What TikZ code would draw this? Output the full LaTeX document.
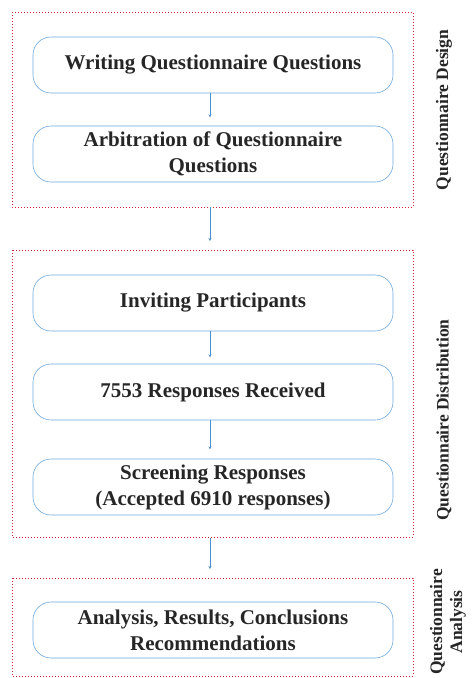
\documentclass[tikz,border=0pt]{standalone}
\usepackage{fontspec}
\setmainfont{Liberation Serif}
\usetikzlibrary{arrows.meta}
\definecolor{boxblue}{HTML}{6FA8DC}
\definecolor{arrblue}{HTML}{4A90D0}
\definecolor{dotred}{HTML}{D0202F}
\tikzset{
  x=1pt,y=-1pt,
  stepbox/.style={draw=boxblue,line width=0.6pt,rounded corners=18pt,minimum width=360pt,minimum height=56pt,align=center,font=\fontsize{21}{26}\selectfont\bfseries,text=black!85},
  grp/.style={draw=dotred,dotted,line width=1pt},
  flow/.style={draw=arrblue,line width=0.7pt,-{Stealth[length=3pt,width=3pt]}},
  side/.style={rotate=90,align=center,font=\fontsize{17.5}{20}\selectfont\bfseries,text=black!85}
}
\begin{document}
\begin{tikzpicture}
\useasboundingbox (0,0) rectangle (472,678);
\draw[grp] (12,12) rectangle (413,207);
\draw[grp] (12,250) rectangle (413,537);
\draw[grp] (12,578) rectangle (413,676);
\node[stepbox] (a) at (213,65) {Writing Questionnaire Questions};
\node[stepbox] (b) at (213,154) {Arbitration of Questionnaire\\Questions};
\node[stepbox] (c) at (213,303) {Inviting Participants};
\node[stepbox] (d) at (213,392) {7553 Responses Received};
\node[stepbox] (e) at (213,487) {Screening Responses\\(Accepted 6910 responses)};
\node[stepbox] (f) at (213,630) {Analysis, Results, Conclusions\\Recommendations};
\coordinate (g1) at (210,207);
\coordinate (g1e) at (210,241);
\coordinate (g2) at (210,538);
\coordinate (g2e) at (210,569);
\draw[flow] (a.south -| 210,0) -- ++(0,24);
\draw[flow] (g1) -- (g1e);
\draw[flow] (c.south -| 210,0) -- ++(0,26);
\draw[flow] (d.south -| 210,0) -- ++(0,29);
\draw[flow] (g2) -- (g2e);
\node[side] (s1) at (444,110) {Questionnaire Design};
\node[side] (s2) at (444,420) {Questionnaire Distribution};
\node[side] (s3) at (448,622) {Questionnaire\\Analysis};
\end{tikzpicture}
\end{document}
